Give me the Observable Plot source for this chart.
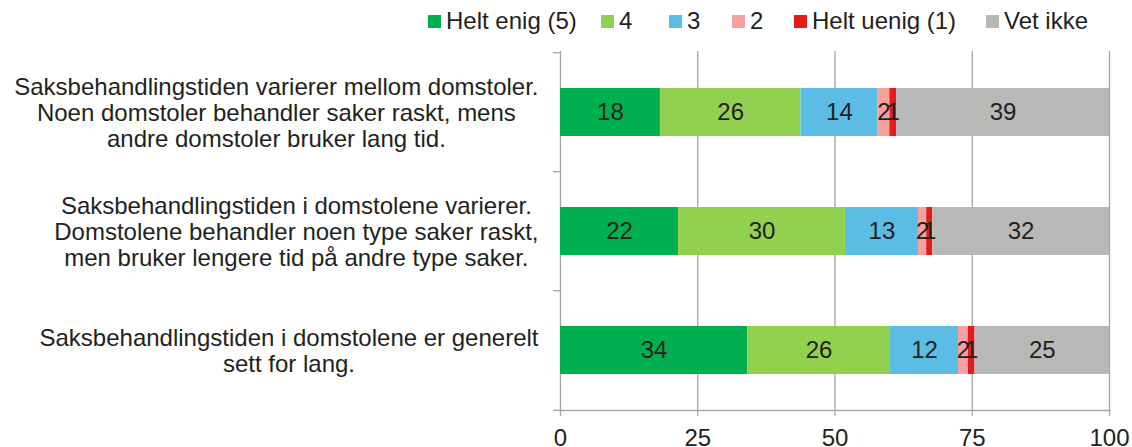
<!DOCTYPE html>
<html>
<head>
<meta charset="utf-8">
<script src="https://cdn.jsdelivr.net/npm/d3@7"></script>
<script src="https://cdn.jsdelivr.net/npm/@observablehq/plot@0.6"></script>
<style>
  html, body { margin: 0; padding: 0; background: #fff; }
  body { width: 1132px; height: 447px; overflow: hidden; font-family: "Liberation Sans", Arial, sans-serif; color: #231f20; }
  #legend { height: 40px; position: relative; font-size: 24px; }
  .item { position: absolute; top: 7px; display: flex; align-items: center; white-space: nowrap; line-height: 28px; }
  .sw { width: 13px; height: 13px; margin-right: 5px; display: inline-block; }
</style>
</head>
<body>
<div id="legend"></div>
<div id="chart"></div>
<script>
const questions = [
  "Saksbehandlingstiden varierer mellom domstoler.\nNoen domstoler behandler saker raskt, mens\nandre domstoler bruker lang tid.",
  "Saksbehandlingstiden i domstolene varierer.\nDomstolene behandler noen type saker raskt,\nmen bruker lengere tid på andre type saker.",
  "Saksbehandlingstiden i domstolene er generelt\nsett for lang."
];
const categories = ["Helt enig (5)", "4", "3", "2", "Helt uenig (1)", "Vet ikke"];
const colors = ["#00b050", "#92d050", "#5bbde4", "#f6a19d", "#e31b1b", "#b8b9b7"];
// values per question, in category order (percent)
const valuesQ1 = [18.2, 25.6, 14.0, 2.2, 1.2, 38.8];
const valuesQ2 = [21.5, 30.4, 13.3, 1.5, 1.1, 32.2];
const valuesQ3 = [34.1, 26.0, 12.4, 1.8, 1.2, 24.5];
const xTicks = [0, 25, 50, 75, 100];

const seriesValues = [valuesQ1, valuesQ2, valuesQ3];
const data = [];
questions.forEach((q, i) => categories.forEach((c, j) => data.push({q, cat: c, value: seriesValues[i][j]})));

// legend
const legendPos = [428, 601, 669, 732, 794, 986];
const legend = document.getElementById("legend");
categories.forEach((c, i) => {
  const d = document.createElement("div");
  d.className = "item";
  d.style.left = legendPos[i] + "px";
  d.innerHTML = `<span class="sw" style="background:${colors[i]}"></span><span>${c}</span>`;
  legend.appendChild(d);
});

// measure widest line per question label
const ctx = document.createElement("canvas").getContext("2d");
ctx.font = '24px "Liberation Sans", Arial, sans-serif';
const maxW = questions.map(q => Math.max(...q.split("\n").map(l => ctx.measureText(l).width)));

const font = '"Liberation Sans", Arial, sans-serif';
const grid = "#a6a6a6";
const txt = "#231f20";

const labelMarks = questions.map((q, i) => Plot.text([q], {
  y: d => d, text: d => d, frameAnchor: "left", textAnchor: "middle",
  dx: -(22 + maxW[i] / 2), lineHeight: 1.1, fontSize: 24, fill: txt
}));

const chart = Plot.plot({
  width: 1132,
  height: 407,
  marginLeft: 560,
  marginRight: 23,
  marginTop: 11,
  marginBottom: 37,
  style: {fontFamily: font, fontSize: "24px", color: txt, background: "#fff"},
  x: {domain: [0, 100], label: null},
  y: {domain: questions, paddingInner: 0.6, paddingOuter: 0.3, axis: null, label: null},
  color: {domain: categories, range: colors},
  marks: [
    Plot.ruleX(xTicks, {stroke: grid, strokeWidth: 1.3}),
    Plot.frame({anchor: "bottom", stroke: grid, strokeWidth: 1.3}),
    Plot.axisX(xTicks, {tickSize: 6, tickPadding: 12, stroke: grid, strokeWidth: 1.3, fill: txt, fontSize: 24, tickFormat: d => d, label: null}),
    Plot.axisY(questions, {tickSize: 7, dy: -59.8, tickFormat: () => "", stroke: grid, strokeWidth: 1.3, label: null}),
    Plot.axisY([questions[questions.length - 1]], {tickSize: 7, dy: 59.8, tickFormat: () => "", stroke: grid, strokeWidth: 1.3, label: null}),
    Plot.barX(data, Plot.stackX({x: "value", y: "q", fill: "cat", order: null})),
    Plot.text(data, Plot.stackX({x: "value", y: "q", z: "cat", order: null, text: d => String(Math.round(d.value)), fill: txt, fontSize: 24})),
    ...labelMarks
  ]
});
document.getElementById("chart").appendChild(chart);
</script>
</body>
</html>
